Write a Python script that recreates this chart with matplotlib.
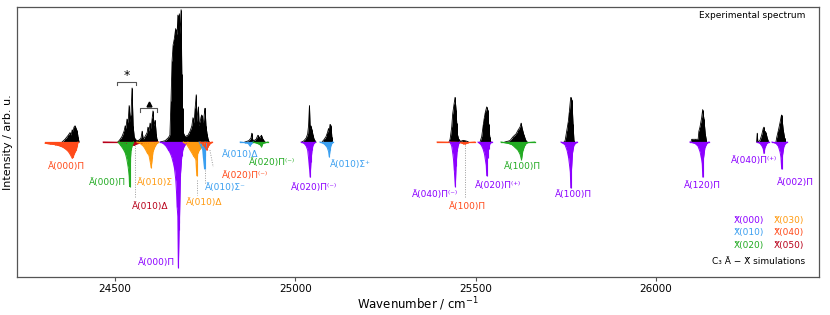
import matplotlib
matplotlib.use("Agg")
import matplotlib.pyplot as plt

# ---------------- colours for lower-state vibrational levels ----------------
C_X000 = "#8c00ff"
C_X010 = "#3a9ff0"
C_X020 = "#22aa22"
C_X030 = "#ff9a10"
C_X040 = "#ff4a1a"
C_X050 = "#b8001a"

# ---------------- experimental spectrum (wavenumber / intensity) ----------------
exp1_wn = [24353, 24361, 24370, 24375, 24378, 24381, 24384, 24386, 24389, 24392, 24395, 24397, 24400]
exp1_I = [0, 0.02, 0.05, 0.07, 0.05, 0.09, 0.08, 0.11, 0.12, 0.10, 0.08, 0.04, 0]

exp2_wn = [24508, 24514, 24519, 24525, 24528, 24530, 24533, 24536, 24539, 24542, 24544, 24547,
           24550, 24553, 24556, 24561, 24564, 24569, 24572, 24575, 24578, 24583, 24589, 24591,
           24594, 24597, 24600, 24603, 24605, 24608, 24611, 24614, 24616, 24619]
exp2_I = [0, 0.02, 0.04, 0.08, 0.12, 0.10, 0.17, 0.14, 0.27, 0.15, 0.20, 0.40,
          0.12, 0.04, 0.02, 0.01, 0.01, 0.02, 0.03, 0.08, 0.02, 0.04, 0.07, 0.11,
          0.08, 0.14, 0.10, 0.18, 0.23, 0.12, 0.16, 0.06, 0.02, 0]

exp3_wn = [24625, 24639, 24647, 24652, 24655, 24658, 24661, 24664, 24666, 24668, 24670.5, 24672,
           24674, 24676, 24678, 24680, 24683, 24685, 24687, 24689, 24694, 24702, 24708, 24713,
           24716, 24719, 24722, 24725, 24726.5, 24729, 24731, 24733, 24736, 24738, 24740, 24743,
           24745, 24748, 24749.5, 24752, 24755, 24758, 24761]
exp3_I = [0, 0.01, 0.03, 0.05, 0.30, 0.60, 0.72, 0.76, 0.80, 0.84, 0.70, 0.80,
          0.94, 0.75, 0.95, 0.80, 0.98, 0.50, 0.25, 0.07, 0.04, 0.05, 0.08, 0.12,
          0.18, 0.14, 0.25, 0.35, 0.15, 0.22, 0.26, 0.12, 0.15, 0.18, 0.20, 0.10,
          0.15, 0.22, 0.25, 0.12, 0.06, 0.02, 0]

exp4_wn = [24860, 24871, 24877, 24879, 24881, 24885, 24891, 24896, 24901, 24906, 24910, 24916]
exp4_I = [0, 0.01, 0.03, 0.065, 0.02, 0.01, 0.02, 0.05, 0.03, 0.05, 0.02, 0]

exp5_wn = [25018, 25024, 25030, 25034, 25036.5, 25039, 25041, 25043, 25046, 25049, 25052, 25057]
exp5_I = [0, 0.01, 0.03, 0.06, 0.12, 0.27, 0.10, 0.12, 0.09, 0.05, 0.02, 0]

exp6_wn = [25074, 25080, 25085, 25089, 25092, 25094, 25096, 25099, 25101, 25103]
exp6_I = [0, 0.02, 0.04, 0.07, 0.10, 0.08, 0.13, 0.12, 0.04, 0]

exp7_wn = [25426, 25429, 25433.5, 25436.3, 25440, 25442.7, 25445.5, 25447.4, 25449, 25453,
           25458, 25465, 25470, 25476, 25480]
exp7_I = [0, 0.02, 0.11, 0.21, 0.28, 0.33, 0.24, 0.14, 0.06, 0.02, 0.005, 0.012, 0.01, 0.005, 0]

exp8_wn = [25512, 25516.7, 25521.2, 25524, 25526.7, 25530.6, 25533.3, 25536, 25539, 25542]
exp8_I = [0, 0.04, 0.13, 0.18, 0.22, 0.26, 0.24, 0.13, 0.04, 0]

exp9_wn = [25581, 25595, 25604, 25612, 25618, 25623, 25626, 25629, 25634, 25639.5, 25643]
exp9_I = [0, 0.01, 0.04, 0.06, 0.09, 0.11, 0.14, 0.10, 0.05, 0.01, 0]

exp10_wn = [25745, 25748, 25752.4, 25756.8, 25759.6, 25763.5, 25767, 25770, 25772.6, 25775]
exp10_I = [0, 0.01, 0.08, 0.15, 0.22, 0.33, 0.31, 0.13, 0.01, 0]

exp11_wn = [26097, 26099, 26108, 26117, 26119, 26122, 26124, 26126.7, 26129.5, 26133, 26136.7, 26140.6]
exp11_I = [0, 0.02, 0.02, 0.02, 0.08, 0.11, 0.14, 0.18, 0.24, 0.17, 0.06, 0]

exp12_wn = [26279, 26280.8, 26282.5, 26288, 26293, 26297.5, 26299.4, 26301.4, 26305, 26308.6, 26312.4]
exp12_I = [0, 0.065, 0, 0.01, 0.05, 0.10, 0.11, 0.08, 0.07, 0.03, 0]

exp13_wn = [26332.7, 26334.6, 26339, 26343.8, 26347.4, 26348.5, 26350.1, 26352.9, 26356.8, 26359.6]
exp13_I = [0, 0.03, 0.08, 0.14, 0.19, 0.20, 0.16, 0.09, 0.03, 0]

# ---------------- simulated bands (negative direction) ----------------
simA000_X040_wn = [24306, 24320, 24334, 24348, 24356, 24364, 24370, 24375, 24381, 24384, 24386, 24392, 24395, 24397]
simA000_X040_I = [-0.01, -0.015, -0.02, -0.03, -0.04, -0.055, -0.07, -0.09, -0.12, -0.11, -0.09, -0.06, -0.03, 0]

simA010D_X050_wn = [24467, 24520, 24530, 24536, 24544, 24553, 24558, 24567, 24580, 24619]
simA010D_X050_I = [0, -0.003, -0.005, -0.012, -0.02, -0.025, -0.015, -0.01, -0.003, 0]

simA000_X020_wn = [24508, 24514, 24522, 24528, 24532, 24536, 24539, 24540, 24542, 24544, 24548, 24551]
simA000_X020_I = [0, -0.02, -0.05, -0.08, -0.12, -0.18, -0.25, -0.33, -0.15, -0.06, -0.02, 0]

simA010S_X030_wn = [24560, 24569, 24578, 24583, 24589, 24594, 24597, 24600, 24603, 24605, 24611, 24616, 24619]
simA010S_X030_I = [0, -0.01, -0.03, -0.05, -0.08, -0.10, -0.14, -0.19, -0.12, -0.07, -0.03, -0.01, 0]

simA000_X000_wn = [24625, 24633, 24641, 24648, 24652.5, 24657, 24661, 24664.4, 24668.3, 24670.5, 24672,
                   24674, 24675.5, 24677.4, 24678.3, 24681, 24685, 24688.5, 24692, 24697, 24702]
simA000_X000_I = [0, -0.01, -0.03, -0.06, -0.08, -0.11, -0.15, -0.19, -0.28, -0.38, -0.48,
                  -0.55, -0.93, -0.65, -0.60, -0.25, -0.10, -0.05, -0.03, -0.01, 0]

simA010D_X030_wn = [24689, 24699, 24708, 24717, 24724, 24726.5, 24729, 24736, 24745, 24749.5]
simA010D_X030_I = [0, -0.02, -0.06, -0.10, -0.13, -0.25, -0.08, -0.05, -0.02, 0]

simA010Sm_X010_wn = [24733, 24738, 24743, 24745, 24748, 24749.5, 24752, 24755]
simA010Sm_X010_I = [0, -0.03, -0.06, -0.12, -0.20, -0.10, -0.03, 0]

simA020Pm_X040_wn = [24736, 24744, 24749.5, 24754, 24756.5, 24761, 24766, 24769]
simA020Pm_X040_I = [0, -0.02, -0.04, -0.06, -0.04, -0.02, -0.005, 0]

simA010D_X010_wn = [24847, 24860, 24869, 24874, 24877, 24883]
simA010D_X010_I = [0, -0.005, -0.01, -0.03, -0.015, 0]

simA020Pm_X020_wn = [24883, 24894, 24902, 24906, 24910, 24924]
simA020Pm_X020_I = [0, -0.01, -0.02, -0.035, -0.01, 0]

simA020Pm_X000_wn = [25016, 25024, 25030, 25034, 25036.5, 25039, 25041, 25043, 25046, 25049, 25055]
simA020Pm_X000_I = [0, -0.01, -0.03, -0.06, -0.12, -0.19, -0.26, -0.15, -0.06, -0.02, 0]

simA010Sp_X010_wn = [25068, 25077, 25082, 25088, 25092, 25094, 25096, 25099, 25104]
simA010Sp_X010_I = [0, -0.01, -0.02, -0.04, -0.07, -0.11, -0.06, -0.02, 0]

simA100_X040_wn = [25393, 25440, 25455, 25461, 25465, 25470, 25475, 25479, 25498]
simA100_X040_I = [0, -0.002, -0.004, -0.008, -0.012, -0.015, -0.01, -0.004, 0]

simA040Pm_X000_wn = [25428.8, 25433.5, 25436.3, 25438.5, 25440.7, 25443.5, 25445.5, 25448.2, 25451.8, 25455]
simA040Pm_X000_I = [0, -0.03, -0.08, -0.13, -0.21, -0.33, -0.18, -0.07, -0.02, 0]

simA020Pp_X000_wn = [25506.5, 25514.8, 25520.3, 25524.5, 25527.3, 25529.2, 25530.6, 25532.8, 25536, 25539.7, 25545.3]
simA020Pp_X000_I = [0, -0.02, -0.05, -0.09, -0.14, -0.17, -0.25, -0.12, -0.05, -0.01, 0]

simA100_X020_wn = [25570, 25590, 25601, 25609, 25617, 25623, 25627, 25631, 25637, 25642, 25664]
simA100_X020_I = [0, -0.01, -0.02, -0.04, -0.06, -0.09, -0.13, -0.06, -0.02, -0.005, 0]

simA100_X000_wn = [25736.6, 25747.7, 25753.2, 25757.4, 25760.2, 25762.4, 25763.7, 25765.7, 25768.5, 25772.6, 25781]
simA100_X000_I = [0, -0.02, -0.06, -0.11, -0.17, -0.22, -0.34, -0.20, -0.08, -0.02, 0]

simA120_X000_wn = [26094, 26108, 26116.4, 26122, 26126, 26128.3, 26129.7, 26131.7, 26135.8, 26141.4, 26147]
simA120_X000_I = [0, -0.01, -0.03, -0.07, -0.12, -0.16, -0.26, -0.12, -0.04, -0.01, 0]

simA040Pp_X000_wn = [26280, 26288.3, 26293.9, 26297.5, 26299.4, 26302.2, 26307.7, 26313.3]
simA040Pp_X000_I = [0, -0.01, -0.03, -0.05, -0.085, -0.04, -0.01, 0]

simA002_X000_wn = [26321.6, 26332.7, 26339, 26343.8, 26346.5, 26348.5, 26350.7, 26354.9, 26360.4, 26363.2]
simA002_X000_I = [0, -0.01, -0.03, -0.07, -0.11, -0.20, -0.10, -0.03, -0.005, 0]

# ---------------- band labels: text, colour, position ----------------
label_texts = ["Ã(000)Π", "Ã(000)Π", "Ã(010)Σ", "Ã(010)Δ", "Ã(000)Π", "Ã(010)Δ",
               "Ã(010)Σ⁻", "Ã(020)Π⁽⁻⁾", "Ã(010)Δ", "Ã(020)Π⁽⁻⁾", "Ã(020)Π⁽⁻⁾",
               "Ã(010)Σ⁺", "Ã(040)Π⁽⁻⁾", "Ã(100)Π", "Ã(020)Π⁽⁺⁾", "Ã(100)Π",
               "Ã(100)Π", "Ã(120)Π", "Ã(040)Π⁽⁺⁾", "Ã(002)Π"]
label_colors = [C_X040, C_X020, C_X030, C_X050, C_X000, C_X030,
                C_X010, C_X040, C_X010, C_X020, C_X000,
                C_X010, C_X000, C_X040, C_X000, C_X020,
                C_X000, C_X000, C_X000, C_X000]
label_x = [24364, 24478, 24611, 24597, 24614, 24747, 24805, 24860, 24847, 24935, 25052,
           25152, 25387, 25476, 25562, 25631, 25770, 26130, 26272, 26388]
label_y = [-0.185, -0.30, -0.30, -0.48, -0.89, -0.45, -0.34, -0.245, -0.09, -0.155, -0.335,
           -0.165, -0.39, -0.48, -0.32, -0.185, -0.39, -0.32, -0.135, -0.30]

# dotted guide lines
guide_x0 = [24555, 24727, 24750, 24763, 25470]
guide_x1 = [24555, 24727, 24750, 24772, 25470]
guide_y0 = [-0.02, -0.28, -0.21, -0.06, -0.02]
guide_y1 = [-0.41, -0.39, -0.31, -0.185, -0.415]

legend_levels = ["X̃(000)", "X̃(010)", "X̃(020)", "X̃(030)", "X̃(040)", "X̃(050)"]
legend_colors = [C_X000, C_X010, C_X020, C_X030, C_X040, C_X050]

# ---------------- figure ----------------
plt.rcParams["font.family"] = ["DejaVu Sans"]
fig = plt.figure(figsize=(8.3, 3.15), dpi=100)
ax = fig.add_axes([0.0205, 0.1206, 0.9662, 0.8572])

exp_sets = [(exp1_wn, exp1_I), (exp2_wn, exp2_I), (exp3_wn, exp3_I), (exp4_wn, exp4_I),
            (exp5_wn, exp5_I), (exp6_wn, exp6_I), (exp7_wn, exp7_I), (exp8_wn, exp8_I),
            (exp9_wn, exp9_I), (exp10_wn, exp10_I), (exp11_wn, exp11_I), (exp12_wn, exp12_I),
            (exp13_wn, exp13_I)]
for wn, inten in exp_sets:
    ax.fill_between(wn, 0, inten, color="black", lw=0)
    ax.plot(wn, inten, color="black", lw=0.6)
    ax.vlines(wn, 0, inten, color="black", lw=0.7)

sim_sets = [(simA000_X040_wn, simA000_X040_I, C_X040),
            (simA010D_X050_wn, simA010D_X050_I, C_X050),
            (simA000_X020_wn, simA000_X020_I, C_X020),
            (simA010S_X030_wn, simA010S_X030_I, C_X030),
            (simA000_X000_wn, simA000_X000_I, C_X000),
            (simA010D_X030_wn, simA010D_X030_I, C_X030),
            (simA010Sm_X010_wn, simA010Sm_X010_I, C_X010),
            (simA020Pm_X040_wn, simA020Pm_X040_I, C_X040),
            (simA010D_X010_wn, simA010D_X010_I, C_X010),
            (simA020Pm_X020_wn, simA020Pm_X020_I, C_X020),
            (simA020Pm_X000_wn, simA020Pm_X000_I, C_X000),
            (simA010Sp_X010_wn, simA010Sp_X010_I, C_X010),
            (simA100_X040_wn, simA100_X040_I, C_X040),
            (simA040Pm_X000_wn, simA040Pm_X000_I, C_X000),
            (simA020Pp_X000_wn, simA020Pp_X000_I, C_X000),
            (simA100_X020_wn, simA100_X020_I, C_X020),
            (simA100_X000_wn, simA100_X000_I, C_X000),
            (simA120_X000_wn, simA120_X000_I, C_X000),
            (simA040Pp_X000_wn, simA040Pp_X000_I, C_X000),
            (simA002_X000_wn, simA002_X000_I, C_X000)]
for wn, inten, c in sim_sets:
    ax.fill_between(wn, 0, inten, color=c, lw=0)
    ax.plot(wn, inten, color=c, lw=0.7)
    ax.vlines(wn, 0, inten, color=c, lw=0.8)
    ax.plot([wn[0], wn[-1]], [0, 0], color=c, lw=0.9)

for t, c, x, y in zip(label_texts, label_colors, label_x, label_y):
    ax.text(x, y, t, color=c, ha="center", va="center", fontsize=6.5)

for x0, x1, y0, y1 in zip(guide_x0, guide_x1, guide_y0, guide_y1):
    ax.plot([x0, x1], [y0, y1], ls=(0, (1, 1.5)), color="#999999", lw=0.7)

# assignment brackets (* and triangle)
star_span = [24506, 24557]
tri_span = [24569, 24617]
ax.plot([star_span[0], star_span[0], star_span[1], star_span[1]], [0.42, 0.447, 0.447, 0.42],
        color="#555555", lw=0.8)
ax.text(sum(star_span) / 2, 0.49, "*", ha="center", va="center", fontsize=9)
ax.plot([tri_span[0], tri_span[0], tri_span[1], tri_span[1]], [0.225, 0.25, 0.25, 0.225],
        color="#555555", lw=0.8)
ax.plot([sum(tri_span) / 2], [0.285], marker="^", color="black", ms=3.5)

# legend of lower levels
leg_cx = [0.913, 0.913, 0.913, 0.963, 0.963, 0.963]
leg_cy = [0.211, 0.163, 0.115, 0.211, 0.163, 0.115]
for t, c, x, y in zip(legend_levels, legend_colors, leg_cx, leg_cy):
    ax.text(x, y, t, color=c, ha="center", va="center", fontsize=6.5, transform=ax.transAxes)
ax.text(0.983, 0.056, "C₃ Ã − X̃ simulations", ha="right", va="center", fontsize=6.5,
        transform=ax.transAxes)
ax.text(0.983, 0.97, "Experimental spectrum", ha="right", va="center", fontsize=6.5,
        transform=ax.transAxes)

ax.set_xlim(24228, 26452)
ax.set_ylim(-1, 1)
ax.set_yticks([])
ax.set_xticks([24500, 25000, 25500, 26000])
ax.tick_params(axis="x", labelsize=7.5, length=3, width=0.8, color="#555555", pad=2)
for s in ax.spines.values():
    s.set_color("#555555")
    s.set_linewidth(0.9)
ax.set_xlabel("Wavenumber / cm$^{-1}$", fontsize=8.5, labelpad=1)
ax.set_ylabel("Intensity / arb. u.", fontsize=8, labelpad=3)

fig.savefig("out.png", dpi=100)
